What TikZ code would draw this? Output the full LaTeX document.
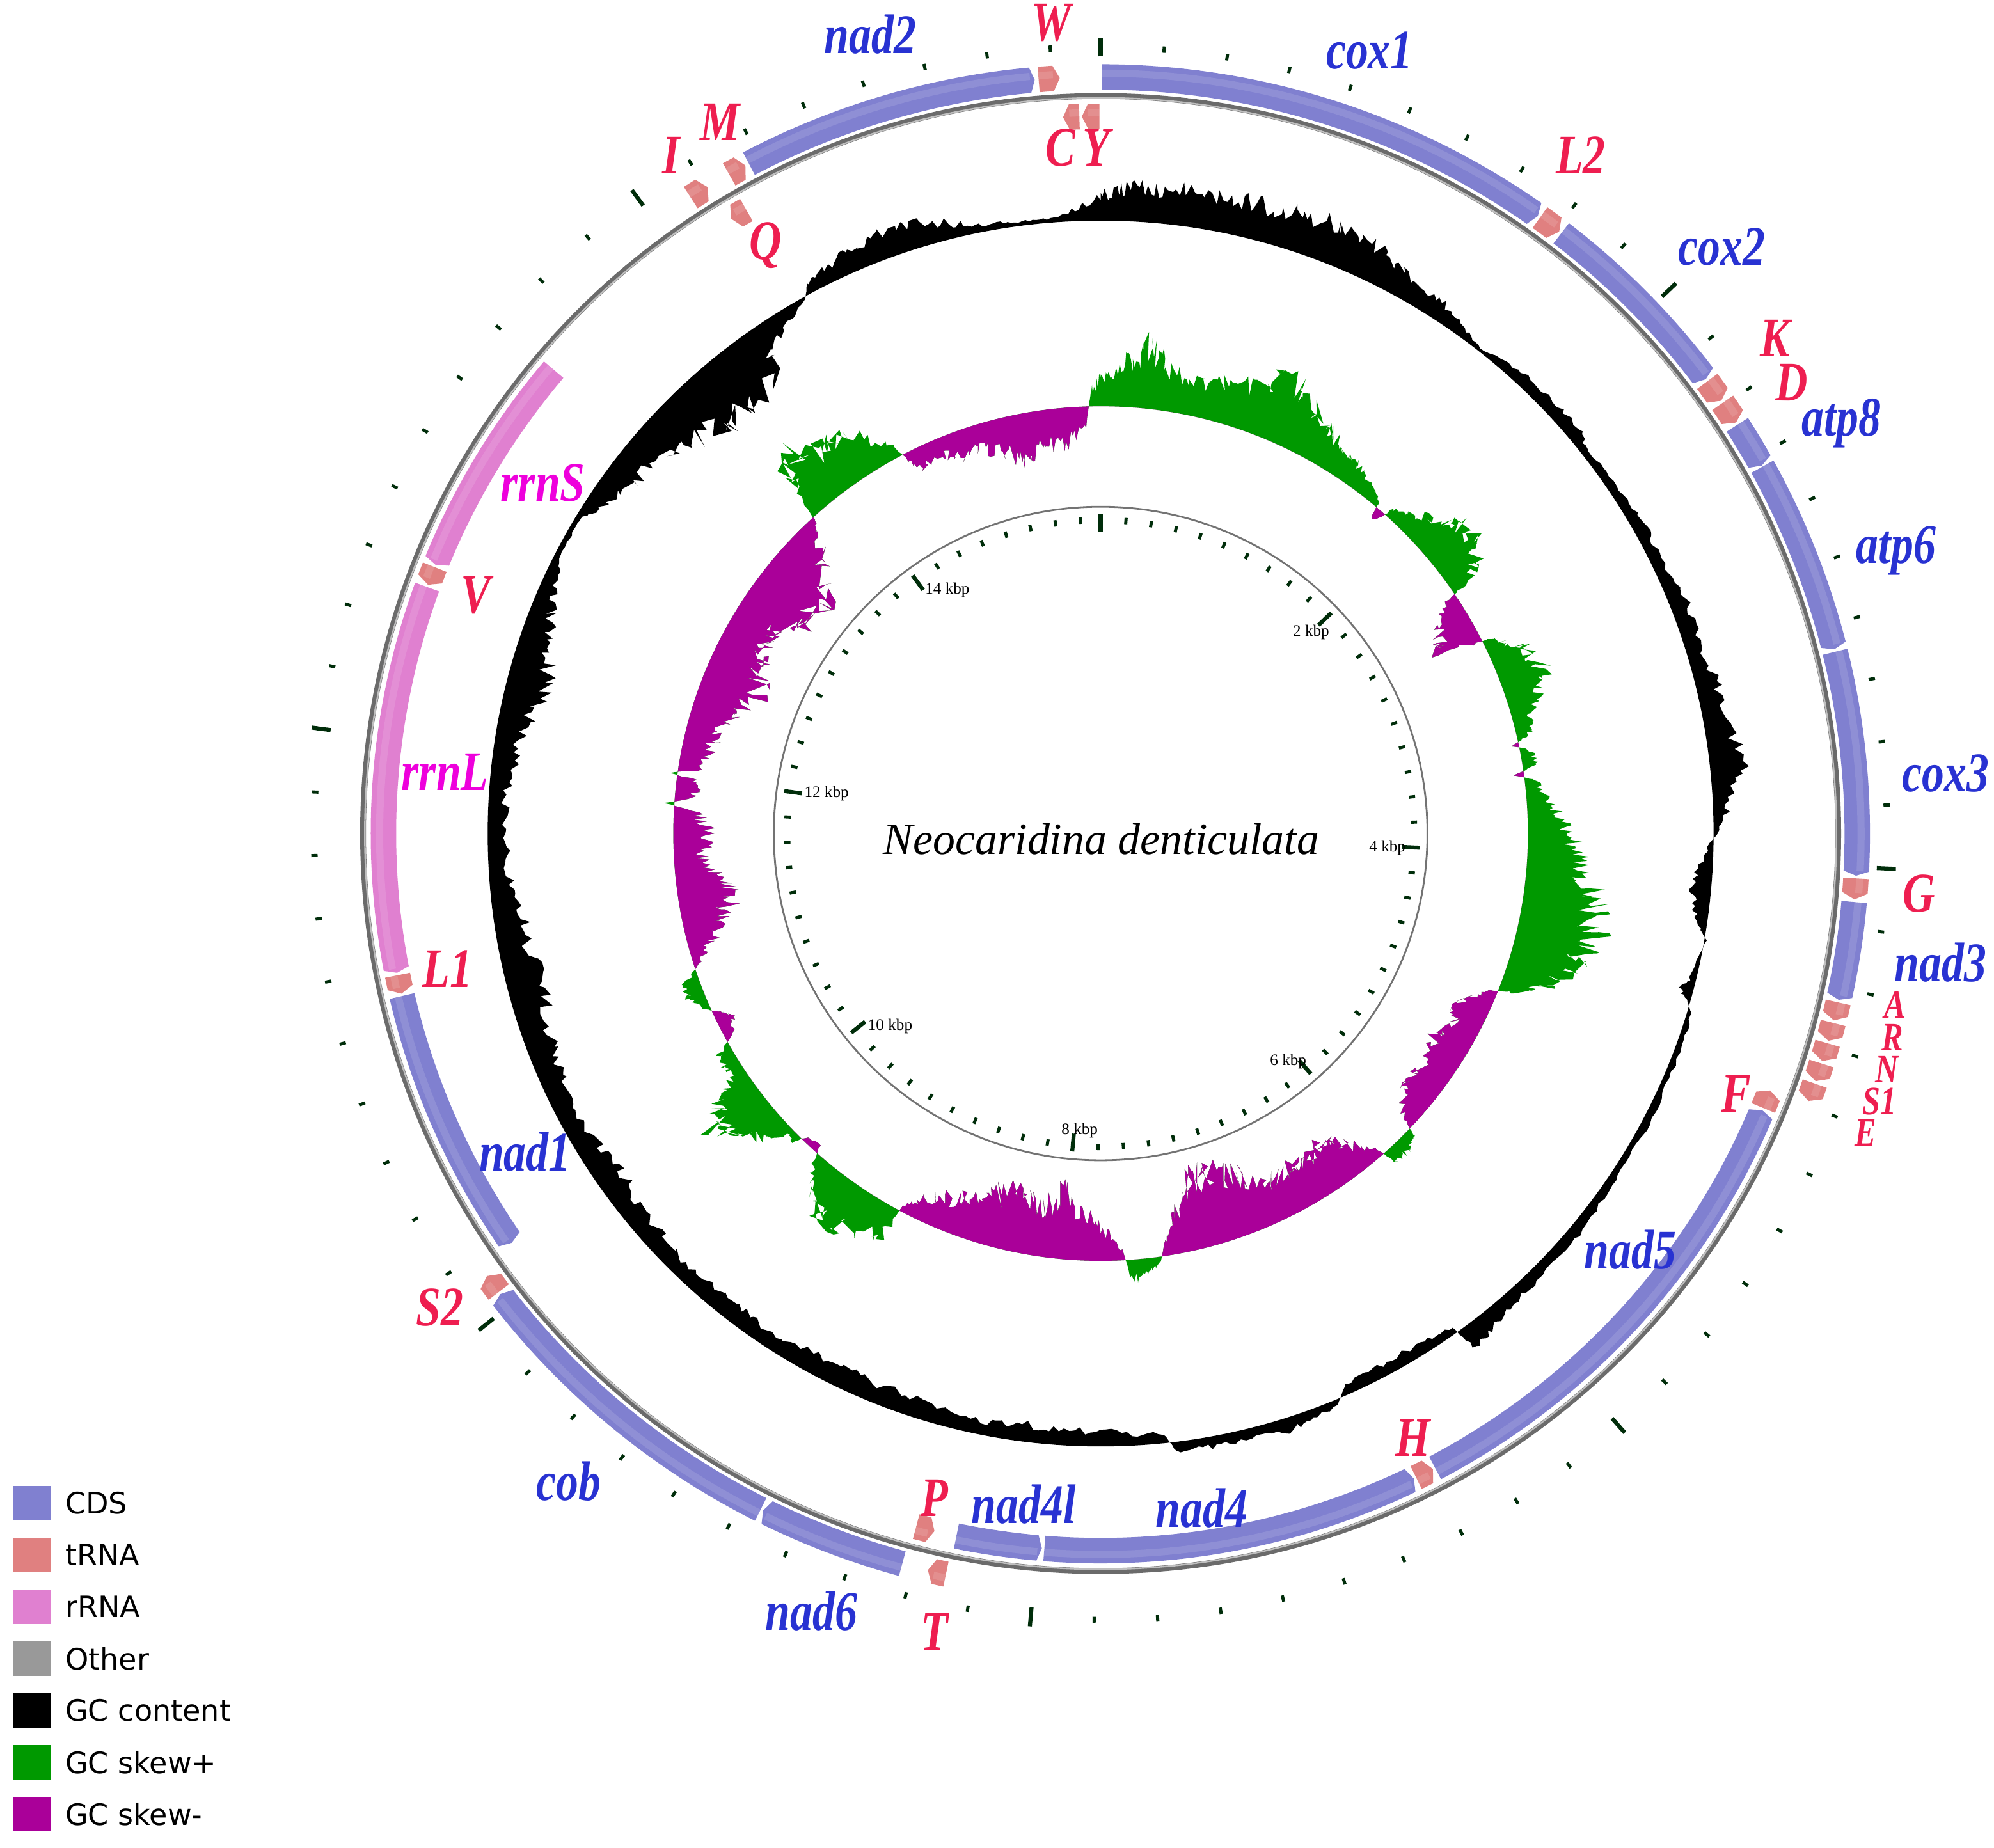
\documentclass[tikz,border=0pt]{standalone}
\usepackage{fontspec}
\setmainfont{Liberation Serif}
\newfontfamily\legendfont{DejaVu Sans}
\usepackage{graphicx}
\usetikzlibrary{positioning}

\definecolor{cdsc}{RGB}{128,128,208}
\definecolor{trnac}{RGB}{224,128,128}
\definecolor{rrnac}{RGB}{224,128,208}
\definecolor{otherc}{RGB}{153,153,153}
\definecolor{skewp}{RGB}{0,153,0}
\definecolor{skewm}{RGB}{170,0,153}
\definecolor{cdslab}{RGB}{40,50,210}
\definecolor{trnalab}{RGB}{238,30,80}
\definecolor{rrnalab}{RGB}{238,0,220}
\definecolor{tickc}{RGB}{0,45,10}

\tikzset{
  cds/.style={fill=cdsc},
  trna/.style={fill=trnac},
  rrna/.style={fill=rrnac},
  genelabel/.style={font=\fontsize{12.5}{13}\selectfont\bfseries\itshape, inner sep=0pt},
  cdslabel/.style={genelabel, text=cdslab},
  trnalabel/.style={genelabel, text=trnalab},
  smalltrna/.style={trnalabel, font=\fontsize{9}{10}\selectfont\bfseries\itshape},
  rrnalabel/.style={genelabel, text=rrnalab},
  kbplabel/.style={font=\fontsize{3.6}{4}\selectfont, inner sep=0pt},
  minortick/.style={tickc, line width=0.7pt},
  majortick/.style={tickc, line width=0.9pt},
  legbox/.style={minimum width=3mm, minimum height=2.7mm, inner sep=0pt},
  legtext/.style={font=\legendfont\fontsize{6.6}{7}\selectfont, inner sep=0pt, anchor=west},
}

\newcommand{\glab}[1]{\scalebox{0.8}[1]{#1}}

% genes on the outer (forward) and inner (reverse) track, angles clockwise from top
\newcommand{\fwdgene}[4][0.35]{%
  \fill[#2] ({90-#3}:585) arc[start angle={90-#3}, end angle={90-#4+#1}, radius=585]
    -- ({90-#4}:595) -- ({90-#4+#1}:605)
    arc[start angle={90-#4+#1}, end angle={90-#3}, radius=605] -- cycle;
  \draw[white, opacity=.12, line width=1.6pt] ({90-#3}:598)
    arc[start angle={90-#3}, end angle={90-#4+#1}, radius=598];}
\newcommand{\revgene}[4][0.35]{%
  \fill[#2] ({90-#4}:554) arc[start angle={90-#4}, end angle={90-#3-#1}, radius=554]
    -- ({90-#3}:564) -- ({90-#3-#1}:574)
    arc[start angle={90-#3-#1}, end angle={90-#4}, radius=574] -- cycle;
  \draw[white, opacity=.12, line width=1.6pt] ({90-#4}:567)
    arc[start angle={90-#4}, end angle={90-#3-#1}, radius=567];}

% jagged closed curve round a baseline circle
\newcommand{\profile}[3]{%
  (90:{#1+#2})
  \foreach \ang/\dev [remember=\ang as \pang (initially 0), remember=\dev as \pdev (initially #2)] in #3 {
    \foreach \k in {1,...,6} {
      -- ({90-(\pang+(\ang-\pang)*\k/6)}:{#1+((\pdev)+((\dev)-(\pdev))*\k/6)*(0.6+0.5*rnd)})
    }
  } -- cycle}

\def\gcdata{1/26,2/28,3/30,4.5/32,6/34,8/32,10/30,12/31,14/33,16/34,18/35,20/36,22/36,24/33,26/30,28/26,30/22,32/18,34/14,36/8,38/3,41/10,44/12,47/11,50/12,52/6,55/8,58/10,61/12,63/10,66/14,69/16,72/15,75/18,78/22,81/25,84/28,86/20,88/12,90/4,91/-4,93/-12,95/-17,97/-14,99/-6,100/2,102/-3,104/-6,105/-12,106/-2,107/4,110/6,114/5,118/8,122/6,126/8,130/10,134/10,137/12,140/14,142/17,144/20,144.5/-6,147/-9,150/-12,153/-11,156/-10,157.5/6,160/9,162/12,165/11,168/10,170.5/9,173/8,174/-8,177/-11,180/-14,183/-15,186/-16,189/-14,192/-12,195/-14,198/-16,201.5/-18,205/-20,208.5/-17,212/-14,215/-16,218/-18,221/-16,224/-14,227/-17,230/-20,233/-22,236/-24,239/-21,242/-18,245/-20,248/-22,251/-26,254/-30,257/-29,260/-28,262.5/-24,265/-20,267.5/-17,270/-14,272.5/-16,275/-18,277.5/-21,280/-24,282.5/-31,285/-38,287/-33,289/-28,291/-22,293/-16,295/-11,297/-6,299/-5,301/-4,302.5/-12,304/-20,306.5/-25,309/-30,311.5/-38,314/-45,316/-50,318/-55,320/-55,322/-55,324.5/-50,325.5/-22,328/-15,331/-3,332/10,334/15,336/20,338/22,340/24,342/23,344/22,346/15,348/8,350/6,352/4,354/4,356/4,358/14,360/22}
\def\skewdata{1/30,2/35,3/40,4/45,5/52,6/60,7/50,8/40,9.5/35,11/30,13/35,15/40,17/42,19/45,21/50,23/55,24.5/52,26/50,27.5/45,29/40,30.5/32,32/25,33.5/22,35/20,36.5/16,38/12,39/9,40/6,40.5/-10,41.5/-6,42/8,43.5/14,45/20,46.5/28,48/35,49/41,50/47,51.5/44,53/40,54/32,55/25,55.8/5,56.2/-10,57.5/-20,59/-30,60.5/-34,62/-38,63/-10,63.5/10,65/20,66/30,67.5/37,69/43,70.5/37,72/30,73.5/22,75/15,76/14,77/12,78/-6,79/10,80/11,81/12,82/-8,83/10,84.5/15,86/20,87.5/28,89/35,90.5/40,92/45,93.5/52,95/58,96.5/60,98/62,99.5/65,101/68,102/70,103/72,104.5/63,106/55,107.5/48,109/40,110/28,111/15,112/-8,113.5/-19,115/-30,116.5/-27,118/-25,120/-30,122/-35,124/-31,126/-28,127.5/-29,129/-30,130.5/-25,132/-20,133.5/-4,134/8,135/11,136/14,137/13,138/12,139/-10,140.5/-20,142/-30,143.5/-38,145/-45,146.5/-41,148/-38,149.5/-39,151/-40,152.5/-37,154/-35,155.5/-42,157/-50,158.5/-54,160/-58,161.5/-61,163/-65,164/-68,165/-70,166.5/-57,168/-45,169.5/-30,171/-15,172/5,173/10,174/15,175/17,176/18,177/-10,178.5/-20,180/-30,181.5/-39,183/-48,184.5/-55,186/-62,187/-53,188/-45,189.5/-47,191/-50,192.5/-51,194/-52,195.5/-47,197/-42,198.5/-38,200/-35,201.5/-32,203/-30,204.5/-25,206/-20,207/-12,208/-5,208.5/25,210/31,212/38,214/43,216/48,217.5/39,219/30,220/20,221/10,222/-8,223/-6,224/-5,225/8,226/5,227/15,228/25,229.5/35,231/45,232/50,233/55,234/45,235/35,236/22,237/10,238/15,239/13,240/12,241.5/-10,243/-13,244/-15,245/-5,246/5,247/10,248/15,249/15,250/14,252/-5,253.5/-15,255/-25,256.5/-32,258/-40,259.5/-44,261/-47,262.5/-41,264/-35,265.5/-30,267/-25,268.5/-30,270/-35,271.5/-28,273/-20,274/8,275/-18,276/-19,277.5/-20,278/9,279/-20,280.5/-23,282/-25,283.5/-28,285/-30,286.5/-35,288/-40,290/-46,292/-53,294/-49,296/-45,297.5/-42,299/-40,300.5/-41,302/-42,303.5/-50,305/-58,307/-62,309/-66,311/-55,313/-45,314.5/-32,316/-20,317/-10,317.7/-3,318.2/30,319/45,320/60,321.5/52,323/45,324.5/45,326/45,327.5/38,329/30,330.5/20,332/10,332.8/-10,334/-20,335.5/-17,337/-15,338.5/-20,340/-25,341.5/-22,343/-20,344.5/-28,346/-35,347.5/-38,349/-42,350.5/-36,352/-30,353.5/-32,355/-35,356.5/-25,358/-15,358.8/15,359.4/20,360/25}

\begin{document}
\begin{tikzpicture}[x=0.1mm, y=0.1mm]
  \useasboundingbox (-865.5,-797.5) rectangle (702.5,655.5);

  % GC content
  \pgfmathsetseed{7}
  \fill[black, even odd rule] (0,0) circle (482) \profile{482}{22}{\gcdata};

  % GC skew, purple part clipped to the inside of the baseline
  \pgfmathsetseed{11}
  \fill[skewp, even odd rule] (0,0) circle (336) \profile{336}{25}{\skewdata};
  \begin{scope}
    \clip (0,0) circle (336);
    \pgfmathsetseed{11}
    \fill[skewm, even odd rule] (0,0) circle (336) \profile{336}{25}{\skewdata};
  \end{scope}

  % scale and backbone
  \draw[gray!90!black, line width=0.4pt] (0,0) circle (257);
  \draw[line width=1.3pt, black!58] (0,0) circle (580);
  \draw[line width=0.35pt, black!25] (0,0) circle (578.6);
  \foreach \i in {0,...,77} {
    \draw[minortick] ({90-\i*4.62755}:616) -- ({90-\i*4.62755}:621);
    \draw[minortick] ({90-\i*4.62755}:244) -- ({90-\i*4.62755}:249);
  }
  \foreach \i in {0,...,7} {
    \draw[majortick] ({90-\i*46.2755}:611) -- ({90-\i*46.2755}:626);
    \draw[majortick] ({90-\i*46.2755}:237) -- ({90-\i*46.2755}:251);
  }
  \foreach \kb/\x/\y in {2/165.5/158.5, 4/225.5/-11.5, 6/147.5/-179.5, 8/-16.5/-233.5,
      10/-165.5/-151.5, 12/-215.5/31.5, 14/-120.5/191.5}
    \node[kbplabel] (kbp\kb) at (\x,\y) {\kb\ kbp};

  % forward strand
  \fwdgene{cds}{0.1}{35.3}
  \fwdgene[0.5]{trna}{35.5}{37.3}
  \fwdgene{cds}{37.5}{53.1}
  \fwdgene[0.5]{trna}{53.3}{55.1}
  \fwdgene[0.5]{trna}{55.3}{57.1}
  \fwdgene{cds}{57.3}{60.9}
  \fwdgene{cds}{61.0}{75.9}
  \fwdgene{cds}{76.1}{93.2}
  \fwdgene[0.5]{trna}{93.4}{95.0}
  \fwdgene{cds}{95.2}{102.7}
  \fwdgene[0.5]{trna}{102.9}{104.3}
  \fwdgene[0.5]{trna}{104.5}{105.9}
  \fwdgene[0.5]{trna}{106.1}{107.5}
  \fwdgene[0.5]{trna}{107.7}{109.1}
  \fwdgene[0.5]{trna}{109.3}{110.7}
  \fwdgene[0.5]{trna}{191.8}{193.2}
  \fwdgene{cds}{195.2}{206.5}
  \fwdgene{cds}{206.7}{232.5}
  \fwdgene[0.5]{trna}{232.7}{234.2}
  \fwdgene[0.5]{trna}{327.2}{328.7}
  \fwdgene[0.5]{trna}{330.6}{332.0}
  \fwdgene{cds}{332.3}{355.0}
  \fwdgene[0.5]{trna}{355.3}{356.9}

  % reverse strand
  \revgene[0.5]{trna}{111.0}{112.5}
  \revgene{cds}{112.7}{152.2}
  \revgene[0.5]{trna}{152.4}{153.9}
  \revgene{cds}{154.1}{184.5}
  \revgene{cds}{184.7}{191.6}
  \revgene[0.5]{trna}{193.4}{194.9}
  \revgene{cds}{235.2}{256.9}
  \revgene{rrna}{258.8}{290.1}
  \revgene[0.5]{trna}{257.1}{258.6}
  \revgene[0.5]{trna}{290.3}{291.8}
  \revgene{rrna}{292.0}{310.3}
  \revgene[0.5]{trna}{329.0}{330.4}
  \revgene[0.5]{trna}{357.0}{358.3}
  \revgene[0.5]{trna}{358.5}{359.9}

  % gene names
  \node[cdslabel] (lcox1) at (211.5,615.5) {\glab{cox1}};
  \node[cdslabel] (lcox2) at (488.5,461.5) {\glab{cox2}};
  \node[cdslabel] (latp8) at (582.5,322.5) {\glab{atp8}};
  \node[cdslabel] (latp6) at (625.5,222.5) {\glab{atp6}};
  \node[cdslabel] (lcox3) at (664.5,47.5) {\glab{cox3}};
  \node[cdslabel] (lnad3) at (660.5,-101.5) {\glab{nad3}};
  \node[cdslabel] (lnad5) at (416.5,-327.5) {\glab{nad5}};
  \node[cdslabel] (lnad4) at (79.5,-530.5) {\glab{nad4}};
  \node[cdslabel] (lnad4l) at (-60.5,-527.5) {\glab{nad4l}};
  \node[cdslabel] (lnad6) at (-227.5,-611.5) {\glab{nad6}};
  \node[cdslabel] (lcob) at (-418.5,-509.5) {\glab{cob}};
  \node[cdslabel] (lnad1) at (-452.5,-250.5) {\glab{nad1}};
  \node[cdslabel] (lnad2) at (-181,628.5) {\glab{nad2}};
  \node[rrnalabel] (lrrnL) at (-515.5,48.5) {\glab{rrnL}};
  \node[rrnalabel] (lrrnS) at (-438.5,275.5) {\glab{rrnS}};
  \node[trnalabel] (lW) at (-38.5,637.5) {\glab{W}};
  \node[trnalabel] (lC) at (-31.5,539.5) {\glab{C}};
  \node[trnalabel] (lY) at (-3.5,539.5) {\glab{Y}};
  \node[trnalabel] (lL2) at (377.5,533.5) {\glab{L2}};
  \node[trnalabel] (lK) at (530.5,389.5) {\glab{K}};
  \node[trnalabel] (lD) at (543.5,354.5) {\glab{D}};
  \node[trnalabel] (lG) at (643.5,-47.5) {\glab{G}};
  \node[smalltrna] (lA) at (624.5,-134.5) {\glab{A}};
  \node[smalltrna] (lR) at (622.5,-160.5) {\glab{R}};
  \node[smalltrna] (lN) at (618.5,-185.5) {\glab{N}};
  \node[smalltrna] (lS1) at (612.5,-210.5) {\glab{S1}};
  \node[smalltrna] (lE) at (601.5,-235.5) {\glab{E}};
  \node[trnalabel] (lF) at (499.5,-204.5) {\glab{F}};
  \node[trnalabel] (lH) at (245.5,-475.5) {\glab{H}};
  \node[trnalabel] (lP) at (-130.5,-522.5) {\glab{P}};
  \node[trnalabel] (lT) at (-130.5,-627.5) {\glab{T}};
  \node[trnalabel] (lS2) at (-519.5,-372.5) {\glab{S2}};
  \node[trnalabel] (lL1) at (-513.5,-106.5) {\glab{L1}};
  \node[trnalabel] (lV) at (-491.5,187.5) {\glab{V}};
  \node[trnalabel] (lI) at (-337.5,533.5) {\glab{I}};
  \node[trnalabel] (lM) at (-299.5,559.5) {\glab{M}};
  \node[trnalabel] (lQ) at (-263.5,462.5) {\glab{Q}};

  \node[font=\fontsize{10}{12}\selectfont\itshape] (title) at (0.5,-4.5) {Neocaridina denticulata};

  % legend
  \foreach \c/\t [count=\i] in {cdsc/CDS, trnac/tRNA, rrnac/rRNA, otherc/Other,
      black/GC content, skewp/GC skew+, skewm/GC skew-} {
    \node[legbox, fill=\c] (lb\i) at (-840.5,{-526.5-40.8*(\i-1)}) {};
    \node[legtext, right=1mm of lb\i] (lt\i) {\t};
  }
\end{tikzpicture}
\end{document}
